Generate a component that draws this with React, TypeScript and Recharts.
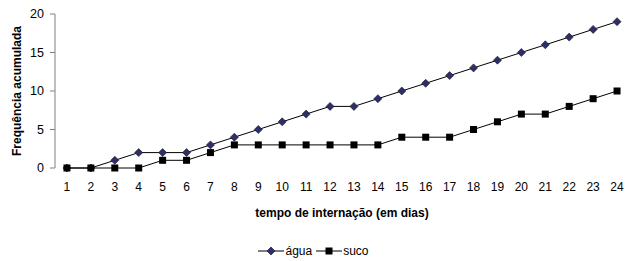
import { LineChart, Line, XAxis, YAxis, Legend, Label } from "recharts";

const dias = [1, 2, 3, 4, 5, 6, 7, 8, 9, 10, 11, 12, 13, 14, 15, 16, 17, 18, 19, 20, 21, 22, 23, 24];
const agua = [0, 0, 1, 2, 2, 2, 3, 4, 5, 6, 7, 8, 8, 9, 10, 11, 12, 13, 14, 15, 16, 17, 18, 19];
const suco = [0, 0, 0, 0, 1, 1, 2, 3, 3, 3, 3, 3, 3, 3, 4, 4, 4, 5, 6, 7, 7, 8, 9, 10];
const yTicks = [0, 5, 10, 15, 20];

const data = dias.map((d, i) => ({ dia: d, agua: agua[i], suco: suco[i] }));
// tick marks sit between the categories, like the spreadsheet original
const divisions = [0, ...dias].map((d) => d + 0.5);

const FONT = "'Liberation Sans', Arial, sans-serif";
const AXIS = "#808080";

const Diamond = (props: any) => {
  const { cx, cy } = props;
  if (cx == null || cy == null) return null;
  const r = 4;
  return (
    <polygon
      points={`${cx},${cy - r} ${cx + r},${cy} ${cx},${cy + r} ${cx - r},${cy}`}
      fill="#2e2e6e"
      stroke="#111"
      strokeWidth={0.6}
    />
  );
};

const Square = (props: any) => {
  const { cx, cy } = props;
  if (cx == null || cy == null) return null;
  return <rect x={cx - 3.5} y={cy - 3.5} width={7} height={7} fill="#000" />;
};

const LegendContent = () => (
  <div
    style={{
      display: "flex",
      justifyContent: "center",
      paddingTop: 13,
      paddingLeft: 2,
      fontFamily: FONT,
      fontSize: 12,
      lineHeight: "14px",
      color: "#000",
    }}
  >
    {[
      { label: "água", Marker: Diamond },
      { label: "suco", Marker: Square },
    ].map(({ label, Marker }) => (
      <span key={label} style={{ display: "flex", alignItems: "center", marginRight: 4 }}>
        <svg width={26} height={10}>
          <line x1={0} y1={5} x2={26} y2={5} stroke="#000" strokeWidth={1} />
          <Marker cx={13} cy={5} />
        </svg>
        <span style={{ marginLeft: 1 }}>{label}</span>
      </span>
    ))}
  </div>
);

export default function App() {
  return (
    <div style={{ position: "absolute", left: 0, top: 0, width: 632, height: 261, background: "#fff" }}>
      <LineChart width={632} height={261} data={data} margin={{ top: 14, right: 3, left: 0, bottom: 0 }}>
        <XAxis
          xAxisId="marks"
          type="number"
          dataKey="dia"
          domain={[0.5, 24.5]}
          ticks={divisions}
          tick={false}
          tickSize={5}
          height={0}
          stroke={AXIS}
          allowDataOverflow
        />
        <XAxis
          xAxisId="dias"
          type="number"
          dataKey="dia"
          domain={[0.5, 24.5]}
          ticks={dias}
          interval={0}
          axisLine={false}
          tickLine={false}
          tickSize={4}
          tickMargin={10}
          height={63}
          tick={{ fill: "#000", fontSize: 12, fontFamily: FONT }}
        >
          <Label
            value="tempo de internação (em dias)"
            position="insideBottom"
            offset={14}
            style={{ fill: "#000", fontSize: 12, fontWeight: "bold", fontFamily: FONT }}
          />
        </XAxis>
        <YAxis
          domain={[0, 20]}
          ticks={yTicks}
          interval={0}
          width={55}
          tickSize={5}
          tickMargin={6}
          stroke={AXIS}
          tick={{ fill: "#000", fontSize: 12.5, fontFamily: FONT }}
        >
          <Label
            value="Frequência acumulada"
            angle={-90}
            position="insideLeft"
            offset={17}
            style={{ textAnchor: "middle", fill: "#000", fontSize: 12, fontWeight: "bold", fontFamily: FONT }}
          />
        </YAxis>
        <Legend verticalAlign="bottom" height={30} content={<LegendContent />} />
        <Line
          xAxisId="dias"
          dataKey="agua"
          name="água"
          stroke="#000"
          strokeWidth={1}
          dot={<Diamond />}
          isAnimationActive={false}
        />
        <Line
          xAxisId="dias"
          dataKey="suco"
          name="suco"
          stroke="#000"
          strokeWidth={1}
          dot={<Square />}
          isAnimationActive={false}
        />
      </LineChart>
    </div>
  );
}
